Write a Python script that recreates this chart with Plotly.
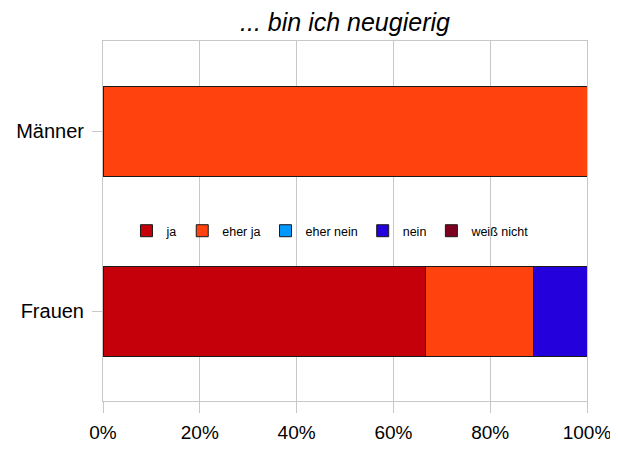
"""Diagramm: ... bin ich neugierig
"""
from plotly.graph_objects import Bar, Figure

# Daten
kategorien = ["Frauen", "Männer"]
antworten = ["ja", "eher ja", "eher nein", "nein", "weiß nicht"]
ja = [66.7, 0]
eher_ja = [22.2, 100]
eher_nein = [0, 0]
nein = [11.1, 0]
weiss_nicht = [0, 0]
x_ticks = [0, 20, 40, 60, 80, 100]
x_labels = ["0%", "20%", "40%", "60%", "80%", "100%"]

farben = ["#c5000b", "#ff420e", "#0099ff", "#2300dc", "#7e0021"]


def balken_plot():
    """baut die Figur"""
    werte = [ja, eher_ja, eher_nein, nein, weiss_nicht]
    fig = Figure()
    for name, w, f in zip(antworten, werte, farben):
        fig.add_trace(Bar(y=kategorien, x=w, name=name, orientation="h",
                          width=0.5, marker_color=f,
                          marker_line=dict(color="#1a1a1a", width=1)))

    grau = "#c8c8c8"
    # die Seite hat 8px Rand, deshalb 610x442
    fig.update_layout(
        barmode="stack",
        width=610, height=442,
        margin=dict(l=95, r=31, t=33, b=49, autoexpand=False),
        paper_bgcolor="white", plot_bgcolor="white",
        font=dict(family="Liberation Sans, Arial, sans-serif", color="black"),
        title=dict(text="<i>... bin ich neugierig</i>", x=0.5, xref="paper",
                   xanchor="center", y=0.968, yanchor="middle",
                   font=dict(size=25)),
        legend=dict(orientation="h", x=0.47, y=0.472, xanchor="center",
                    yanchor="middle", bgcolor="rgba(0,0,0,0)",
                    font=dict(size=12.5), itemwidth=30, traceorder="normal"),
        xaxis=dict(range=[0, 100], tickvals=x_ticks, ticktext=x_labels,
                   showgrid=True, gridcolor=grau, gridwidth=1,
                   showline=True, linecolor=grau, mirror=True,
                   ticks="outside", ticklen=11, tickcolor=grau,
                   ticklabelstandoff=3,
                   tickfont=dict(size=19), zeroline=False, automargin=False),
        yaxis=dict(range=[-0.5, 1.5], showgrid=False,
                   showline=True, linecolor=grau, mirror=True,
                   ticks="outside", ticklen=10, tickcolor=grau,
                   ticklabelstandoff=4,
                   tickfont=dict(size=20), automargin=False),
    )
    return fig


def main():
    """Hauptfunktion"""
    fig = balken_plot()
    fig.write_html("out.html")


if __name__ == "__main__":
    main()
